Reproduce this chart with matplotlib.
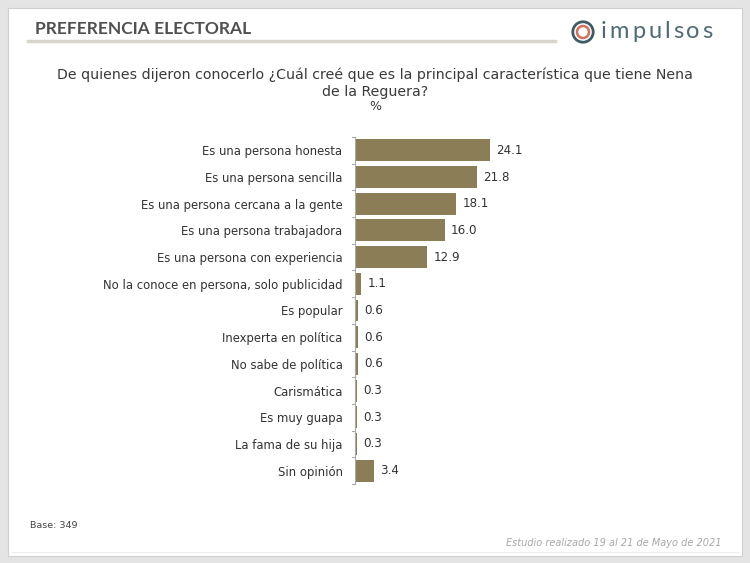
import matplotlib.pyplot as plt
from matplotlib.patches import Rectangle, Circle
from matplotlib.lines import Line2D

categorias = [
    "Es una persona honesta",
    "Es una persona sencilla",
    "Es una persona cercana a la gente",
    "Es una persona trabajadora",
    "Es una persona con experiencia",
    "No la conoce en persona, solo publicidad",
    "Es popular",
    "Inexperta en política",
    "No sabe de política",
    "Carismática",
    "Es muy guapa",
    "La fama de su hija",
    "Sin opinión",
]
valores = [24.1, 21.8, 18.1, 16.0, 12.9, 1.1, 0.6, 0.6, 0.6, 0.3, 0.3, 0.3, 3.4]
etiquetas = ["24.1", "21.8", "18.1", "16.0", "12.9", "1.1", "0.6", "0.6", "0.6", "0.3", "0.3", "0.3", "3.4"]

plt.rcParams['font.family'] = ['DejaVu Sans']

W, H = 750, 563
fig = plt.figure(figsize=(7.5, 5.63), dpi=100)
fig.patch.set_facecolor('#e4e4e4')

# slide blanca
fig.add_artist(Rectangle((8 / W, 1 - 556 / H), 734 / W, 548 / H, transform=fig.transFigure,
                         facecolor='white', edgecolor='#d0d0d0', lw=0.8, zorder=0))

renderer = fig.canvas.get_renderer()

# encabezado
titulo = fig.text(35 / W, 1 - 29 / H, "PREFERENCIA ELECTORAL", fontsize=13, fontweight='bold',
                  color='#505050', va='center', ha='left',
                  family=['Liberation Sans Narrow', 'Lato', 'DejaVu Sans'])
# ajustar al ancho del original (~217 px)
ancho = titulo.get_window_extent(renderer).width
titulo.set_fontsize(13 * 217 / ancho)
fig.add_artist(Line2D([28 / W, 555 / W], [1 - 41 / H, 1 - 41 / H], transform=fig.transFigure,
                      color='#d8d5cc', lw=2.5))

# logo
ax_logo = fig.add_axes([571 / W, 1 - 44 / H, 24 / W, 24 / H])
ax_logo.set_xlim(-1, 1)
ax_logo.set_ylim(-1, 1)
ax_logo.set_aspect('equal')
ax_logo.axis('off')
ax_logo.add_patch(Circle((0, 0), 0.85, facecolor='none', edgecolor='#3f5c66', lw=2.0))
ax_logo.add_patch(Circle((0, 0), 0.5, facecolor='none', edgecolor='#d4705a', lw=1.8))

x = 601
for ch in "impulsos":
    t = fig.text(x / W, 1 - 31 / H, ch, fontsize=17, color='#4f6a74', va='center', ha='left',
                 family=['Lato', 'DejaVu Sans'])
    x += t.get_window_extent(renderer).width + 3.0

# pregunta
fig.text(375 / W, 1 - 75 / H,
         "De quienes dijeron conocerlo ¿Cuál creé que es la principal característica que tiene Nena",
         fontsize=10.2, color='#3a3a3a', ha='center', va='center')
fig.text(375 / W, 1 - 92 / H, "de la Reguera?", fontsize=10.2, color='#3a3a3a', ha='center', va='center')
fig.text(375 / W, 1 - 106 / H, "%", fontsize=9, color='#3a3a3a', ha='center', va='center')

# grafica
ax = fig.add_axes([355 / W, 1 - 484 / H, 168 / W, 347 / H])
ax.set_facecolor('none')
y = list(range(len(categorias)))
ax.barh(y, valores, height=0.82, color='#8b7d56')
for yi, v, t in zip(y, valores, etiquetas):
    ax.text(v + 1.1, yi, t, va='center', ha='left', fontsize=8.6, color='#333333')
ax.set_ylim(len(categorias) - 0.5, -0.5)
ax.set_xlim(0, 30)
ax.set_yticks(y)
ax.set_yticklabels(categorias, fontsize=8.4, color='#333333')
ax.tick_params(axis='y', length=0, pad=9)
ax.set_xticks([])
for s in ['top', 'right', 'bottom']:
    ax.spines[s].set_visible(False)
ax.spines['left'].set_color('#aaaaaa')
ax.spines['left'].set_linewidth(0.8)
for b in [i - 0.5 for i in range(len(categorias) + 1)]:
    ax.plot([-0.5, 0], [b, b], color='#aaaaaa', lw=0.8, clip_on=False)

# pie
fig.text(30 / W, 1 - 525 / H, "Base: 349", fontsize=6.8, color='#444444', ha='left', va='center')
fig.text(722 / W, 1 - 543 / H, "Estudio realizado 19 al 21 de Mayo de 2021", fontsize=7,
         color='#a8a8a8', style='italic', ha='right', va='center')
fig.add_artist(Line2D([12 / W, 738 / W], [1 - 552 / H, 1 - 552 / H], transform=fig.transFigure,
                      color='#eeeeee', lw=0.8))

fig.savefig('out.png', dpi=100, facecolor=fig.get_facecolor())
